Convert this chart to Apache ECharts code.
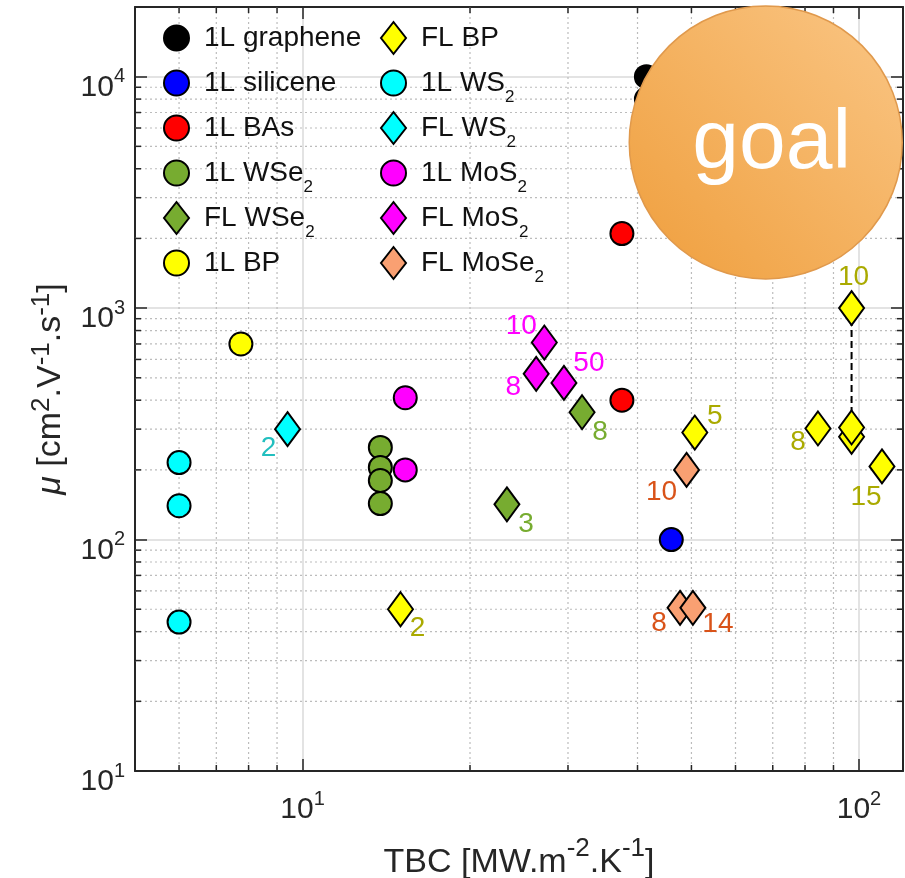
<!DOCTYPE html>
<html>
<head>
<meta charset="utf-8">
<script src="https://cdn.jsdelivr.net/npm/echarts@6/dist/echarts.min.js"></script>
<style>
  html, body { margin: 0; padding: 0; background: #ffffff; }
  #chart { width: 905px; height: 878px; }
</style>
</head>
<body>
<div id="chart"></div>
<script>
// Thermal boundary conductance TBC [MW m^-2 K^-1] vs. carrier mobility mu [cm^2 V^-1 s^-1]
const grapheneTBC = [41.5, 41.5];
const grapheneMu  = [10000, 8000];
const siliceneTBC = [46];
const siliceneMu  = [100];
const basTBC = [37.5, 37.5];
const basMu  = [2100, 400];
const wse2MonoTBC = [13.8, 13.8, 13.8, 13.8];
const wse2MonoMu  = [250, 205, 180, 143];
const wse2FewTBC = [23.3, 31.8];
const wse2FewMu  = [142, 355];
const wse2FewLayers = ['3', '8'];
const bpMonoTBC = [7.75];
const bpMonoMu  = [700];
const bpFewTBC = [15, 50.7, 84.4, 97, 97, 97, 110];
const bpFewMu  = [50, 290, 302, 278, 305, 1000, 207];
const bpFewLayers = ['2', '5', '8', '', '', '10', '15'];
const ws2MonoTBC = [6, 6, 6];
const ws2MonoMu  = [215, 140, 44];
const ws2FewTBC = [9.4];
const ws2FewMu  = [300];
const ws2FewLayers = ['2'];
const mos2MonoTBC = [15.3, 15.3];
const mos2MonoMu  = [410, 200];
const mos2FewTBC = [27.2, 26.3, 29.5];
const mos2FewMu  = [710, 520, 475];
const mos2FewLayers = ['10', '8', '50'];
const mose2FewTBC = [49, 47.7, 50.3];
const mose2FewMu  = [200, 50.7, 50.7];
const mose2FewLayers = ['10', '8', '14'];
// target region
const goalTBC = [68];
const goalMu  = [5200];
// axis ranges and minor tick values
const xRange = [5, 120];
const yRange = [10, 20000];
const xMinorTicks = [6, 7, 8, 9, 20, 30, 40, 50, 60, 70, 80, 90];
const yMinorTicks = [20, 30, 40, 50, 60, 70, 80, 90, 200, 300, 400, 500, 600, 700, 800, 900,
                     2000, 3000, 4000, 5000, 6000, 7000, 8000, 9000];

// ---- styling ----
const FONT = '"Liberation Sans", Arial, Helvetica, sans-serif';
const AXIS = '#262626';
const GREEN = '#77AC30';
const YELLOW = '#FFFF00';
const CYAN = '#00FFFF';
const MAGENTA = '#FF00FF';
const SALMON = '#F9A072';
const CIRCLE = 23;
const DIAMOND = [25, 34];

// label offsets (px) from marker centre, one per point
const bpFewOffsets = [[17, 19], [20, -16], [-20, 14], null, null, [2, -31], [-16, 31]];
const wse2FewOffsets = [[19, 20], [18, 20]];
const ws2FewOffsets = [[-19, 19]];
const mos2FewOffsets = [[-23, -16], [-23, 13], [25, -20]];
const mose2FewOffsets = [[-25, 22], [-21, 15], [25, 16]];

function pts(xs, ys) { return xs.map((x, i) => [x, ys[i]]); }

function markers(name, xs, ys, shape, color, layers, offsets, labelColor) {
  const data = xs.map((x, i) => {
    const item = { value: [x, ys[i]] };
    if (layers && layers[i]) {
      item.label = {
        show: true, formatter: layers[i], position: 'inside',
        offset: offsets[i], color: labelColor, fontSize: 28, fontFamily: FONT,
        align: 'center', verticalAlign: 'middle'
      };
    }
    return item;
  });
  return {
    name, type: 'scatter', data, z: 5, clip: false,
    symbol: shape === 'd' ? 'diamond' : 'circle',
    symbolSize: shape === 'd' ? DIAMOND : CIRCLE,
    itemStyle: { color, borderColor: '#000', borderWidth: 2, opacity: 1 },
    emphasis: { disabled: true }
  };
}

// dotted minor grid lines plus short inward minor ticks on both opposite edges
function minorGrid(values, dim) {
  return {
    type: 'custom', silent: true, z: 1, clip: false,
    data: values.map(v => dim === 'x' ? [v, yRange[0]] : [xRange[0], v]),
    renderItem(params, api) {
      const cs = params.coordSys;
      const dot = { stroke: '#bcbcbc', lineWidth: 1.2, lineDash: [2, 3] };
      const tick = { stroke: AXIS, lineWidth: 1.5 };
      if (dim === 'x') {
        const px = api.coord([api.value(0), yRange[0]])[0];
        const b = cs.y + cs.height;
        return { type: 'group', children: [
          { type: 'line', shape: { x1: px, y1: cs.y, x2: px, y2: b }, style: dot },
          { type: 'line', shape: { x1: px, y1: b, x2: px, y2: b - 6 }, style: tick },
          { type: 'line', shape: { x1: px, y1: cs.y, x2: px, y2: cs.y + 6 }, style: tick }
        ] };
      }
      const py = api.coord([xRange[0], api.value(1)])[1];
      const r = cs.x + cs.width;
      return { type: 'group', children: [
        { type: 'line', shape: { x1: cs.x, y1: py, x2: r, y2: py }, style: dot },
        { type: 'line', shape: { x1: cs.x, y1: py, x2: cs.x + 6, y2: py }, style: tick },
        { type: 'line', shape: { x1: r, y1: py, x2: r - 6, y2: py }, style: tick }
      ] };
    }
  };
}

function powerLabel(value) {
  const l = Math.log10(value);
  const e = Math.round(l);
  if (Math.abs(l - e) > 1e-6) return '';
  return '{b|10}{s|' + e + '}';
}
const powerRich = {
  b: { fontSize: 30, lineHeight: 30, verticalAlign: 'top', padding: [11, 0, 0, 0], color: AXIS, fontFamily: FONT },
  s: { fontSize: 20, lineHeight: 20, verticalAlign: 'top', padding: [5, 0, 0, 0], color: AXIS, fontFamily: FONT }
};
function titleRich(mainPad) {
  return {
    m: { fontSize: 34, lineHeight: 34, verticalAlign: 'top', padding: [mainPad, 0, 0, 0], color: AXIS, fontFamily: FONT },
    i: { fontSize: 34, lineHeight: 34, verticalAlign: 'top', padding: [mainPad, 0, 0, 0], color: AXIS, fontFamily: FONT, fontStyle: 'italic' },
    s: { fontSize: 26, lineHeight: 26, verticalAlign: 'top', padding: [0, 0, 0, 0], color: AXIS, fontFamily: FONT }
  };
}

function baseAxis(range, position, main) {
  return {
    type: 'log', logBase: 10, min: range[0], max: range[1], position,
    axisLine: { show: true, onZero: false, lineStyle: { color: AXIS, width: 2 } },
    axisTick: { show: true, inside: true, length: 12, lineStyle: { color: AXIS, width: 1.5 } },
    axisLabel: main ? { show: true, formatter: powerLabel, rich: powerRich, margin: position === 'bottom' ? 13 : 10,
                        showMinLabel: true, showMaxLabel: true, hideOverlap: false }
                    : { show: false },
    splitLine: { show: main, lineStyle: { color: '#dadada', width: 1.5 } },
    minorTick: { show: false }, minorSplitLine: { show: false }
  };
}

const layerLabel = {
  bp: '#AAAA00', wse2: GREEN, ws2: '#22BFBF', mos2: MAGENTA, mose2: '#D95319'
};

// vertical dashed span joining the few-layer BP points measured at the same TBC
const bpSpan = pts(bpFewTBC, bpFewMu).filter(p => p[0] === 97).sort((a, b) => b[1] - a[1]);

const series = [
  minorGrid(xMinorTicks, 'x'),
  minorGrid(yMinorTicks, 'y'),
  {
    type: 'line', data: bpSpan, symbol: 'none', z: 3, silent: true,
    lineStyle: { color: '#000', width: 2, type: [7, 4] }
  },
  markers('1L graphene', grapheneTBC, grapheneMu, 'o', '#000000'),
  markers('1L silicene', siliceneTBC, siliceneMu, 'o', '#0000FF'),
  markers('1L BAs', basTBC, basMu, 'o', '#FF0000'),
  markers('1L WSe2', wse2MonoTBC, wse2MonoMu, 'o', GREEN),
  markers('FL WSe2', wse2FewTBC, wse2FewMu, 'd', GREEN, wse2FewLayers, wse2FewOffsets, layerLabel.wse2),
  markers('1L BP', bpMonoTBC, bpMonoMu, 'o', YELLOW),
  markers('FL BP', bpFewTBC, bpFewMu, 'd', YELLOW, bpFewLayers, bpFewOffsets, layerLabel.bp),
  markers('1L WS2', ws2MonoTBC, ws2MonoMu, 'o', CYAN),
  markers('FL WS2', ws2FewTBC, ws2FewMu, 'd', CYAN, ws2FewLayers, ws2FewOffsets, layerLabel.ws2),
  markers('1L MoS2', mos2MonoTBC, mos2MonoMu, 'o', MAGENTA),
  markers('FL MoS2', mos2FewTBC, mos2FewMu, 'd', MAGENTA, mos2FewLayers, mos2FewOffsets, layerLabel.mos2),
  markers('FL MoSe2', mose2FewTBC, mose2FewMu, 'd', SALMON, mose2FewLayers, mose2FewOffsets, layerLabel.mose2),
  {
    name: 'goal', type: 'scatter', data: pts(goalTBC, goalMu), symbol: 'circle', symbolSize: 273,
    z: 20, clip: false, silent: true, emphasis: { disabled: true },
    itemStyle: {
      color: { type: 'linear', x: 1, y: 0, x2: 0, y2: 1,
               colorStops: [{ offset: 0, color: '#FAC685' }, { offset: 1, color: '#EF9E3C' }] },
      borderColor: '#E0994C', borderWidth: 1.5, opacity: 1
    },
    label: { show: true, position: 'inside', formatter: 'goal', color: '#ffffff',
             fontSize: 84, fontFamily: FONT, offset: [6, 2] }
  }
];

function legendName(name) {
  const m = name.match(/^(.*?)(2)$/);
  if (m) return '{m|' + m[1] + '}{sub|2}';
  return '{m|' + name + '}{sub| }';
}
function legendBox(names, left) {
  return {
    data: names, orient: 'vertical', left, top: 21, padding: 0,
    itemWidth: 25, itemHeight: 32, itemGap: 5, selectedMode: false,
    formatter: legendName,
    textStyle: {
      fontFamily: FONT, color: '#111',
      rich: {
        m: { fontSize: 28, lineHeight: 34, verticalAlign: 'middle', padding: [0, 0, 0, 10], color: '#111', fontFamily: FONT },
        sub: { fontSize: 17, lineHeight: 17, verticalAlign: 'top', padding: [23, 0, 0, 0], color: '#111', fontFamily: FONT }
      }
    }
  };
}

const chart = echarts.init(document.getElementById('chart'), null, { renderer: 'canvas' });
chart.setOption({
  animation: false,
  backgroundColor: '#ffffff',
  grid: { left: 135, right: 2, top: 7, bottom: 107, containLabel: false, outerBoundsMode: 'none' },
  legend: [
    legendBox(['1L graphene', '1L silicene', '1L BAs', '1L WSe2', 'FL WSe2', '1L BP'], 163),
    legendBox(['FL BP', '1L WS2', 'FL WS2', '1L MoS2', 'FL MoS2', 'FL MoSe2'], 380)
  ],
  xAxis: [
    Object.assign(baseAxis(xRange, 'bottom', true), {
      name: '{m|TBC [MW.m}{s|-2}{m|.K}{s|-1}{m|]}', nameLocation: 'middle', nameGap: 65,
      nameMoveOverlap: false, nameTextStyle: { rich: titleRich(10) }
    }),
    baseAxis(xRange, 'top', false)
  ],
  yAxis: [
    Object.assign(baseAxis(yRange, 'left', true), {
      name: '{i|μ}{m| [cm}{s|2}{m|.V}{s|-1}{m|.s}{s|-1}{m|]}', nameLocation: 'middle', nameGap: 72,
      nameMoveOverlap: false, nameTextStyle: { rich: titleRich(5) }
    }),
    baseAxis(yRange, 'right', false)
  ],
  series
});
</script>
</body>
</html>
